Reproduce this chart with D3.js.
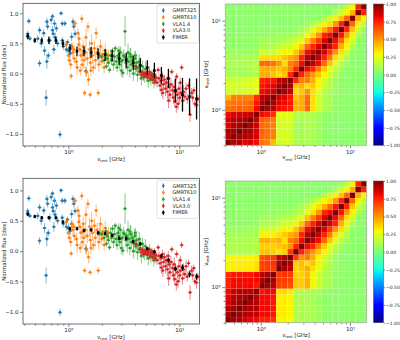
<!DOCTYPE html>
<html>
<head>
<meta charset="utf-8">
<script src="https://cdn.jsdelivr.net/npm/d3@7"></script>
<style>
body { margin: 0; background: #fff; }
svg { font-family: "DejaVu Sans", sans-serif; }
</style>
</head>
<body>
<script>
// [rest frequency GHz, normalized flux dex, error]
const gmrt325 = [
  [0.44, 0.87, 0.05], [0.43, 0.66, 0.05], [0.45, 0.58, 0.04], [0.43, 0.62, 0.05],
  [0.53, 0.58, 0.06], [0.55, 0.72, 0.06], [0.55, 0.17, 0.06], [0.57, 0.50, 0.07],
  [0.60, 0.67, 0.06], [0.61, 0.38, 0.08], [0.63, -0.40, 0.13], [0.64, 0.20, 0.12],
  [0.64, 0.86, 0.06], [0.65, 0.78, 0.06], [0.66, 0.30, 0.06], [0.68, 0.55, 0.07],
  [0.70, 0.89, 0.06], [0.72, 0.95, 0.05], [0.72, 0.72, 0.07], [0.73, 0.66, 0.06],
  [0.74, 0.40, 0.08], [0.75, 0.83, 0.06], [0.76, 0.60, 0.08], [0.78, 0.75, 0.06],
  [0.80, 0.50, 0.06], [0.84, -1.01, 0.06], [0.86, 1.00, 0.04], [0.88, 0.83, 0.05],
  [0.90, 0.45, 0.06], [0.93, 0.83, 0.05], [0.96, 0.40, 0.06], [1.00, 0.38, 0.07],
  [1.04, 0.33, 0.07], [1.07, 0.61, 0.07], [1.10, 0.86, 0.06], [1.12, 0.78, 0.06],
  [1.15, 0.66, 0.06], [1.07, 0.45, 0.06], [1.44, 0.04, 0.08], [0.98, 0.52, 0.05],
  [0.88, 0.55, 0.06]
];
const gmrt610 = [
  [0.96, 0.48, 0.06], [1.00, 0.30, 0.06], [1.02, 0.22, 0.07], [1.05, 0.15, 0.08],
  [1.06, -0.04, 0.05], [1.08, 0.44, 0.07], [1.10, 0.35, 0.10], [1.13, 0.25, 0.08],
  [1.15, 0.83, 0.06], [1.18, 0.20, 0.10], [1.20, 0.10, 0.12], [1.22, 0.67, 0.08],
  [1.25, 0.58, 0.10], [1.27, 0.40, 0.12], [1.28, 0.05, 0.08], [1.30, 0.30, 0.10],
  [1.32, 0.91, 0.07], [1.33, 0.15, 0.10], [1.36, 0.45, 0.12], [1.38, 0.22, 0.15],
  [1.40, -0.32, 0.05], [1.42, 0.35, 0.12], [1.44, 0.60, 0.15], [1.46, 0.02, 0.08],
  [1.48, 0.25, 0.12], [1.50, 0.78, 0.08], [1.52, -0.10, 0.10], [1.55, 0.40, 0.15],
  [1.57, -0.35, 0.05], [1.58, 0.18, 0.12], [1.62, 0.50, 0.15], [1.65, 0.30, 0.12],
  [1.68, 0.10, 0.10], [1.72, 0.42, 0.12], [1.75, 0.22, 0.15], [1.78, 0.67, 0.10],
  [1.82, 0.35, 0.12], [1.86, -0.32, 0.06], [1.88, 0.15, 0.12], [1.92, 0.28, 0.15],
  [1.95, 0.45, 0.12], [2.00, 0.20, 0.10], [2.05, 0.32, 0.12], [2.10, 0.10, 0.10],
  [2.15, 0.38, 0.12], [2.22, 0.25, 0.10], [2.30, 0.30, 0.10], [1.12, 0.40, 0.06],
  [1.24, 0.48, 0.08], [1.35, 0.32, 0.10], [1.60, 0.05, 0.10]
];
const vla14 = [
  [1.90, 0.30, 0.05], [2.00, 0.28, 0.06], [2.10, 0.22, 0.06], [2.18, 0.33, 0.07],
  [2.25, 0.25, 0.08], [2.30, 0.18, 0.06], [2.35, 0.06, 0.05], [2.40, 0.30, 0.10],
  [2.45, 0.22, 0.08], [2.50, 0.37, 0.06], [2.55, 0.15, 0.10], [2.60, 0.28, 0.12],
  [2.65, 0.42, 0.05], [2.70, 0.20, 0.10], [2.75, 0.10, 0.08], [2.80, 0.30, 0.12],
  [2.85, 0.25, 0.10], [2.90, 0.15, 0.08], [2.95, 0.35, 0.10], [3.00, 0.05, 0.10],
  [3.05, 0.22, 0.12], [3.10, 0.01, 0.08], [3.15, 0.30, 0.10], [3.24, 0.70, 0.25],
  [3.30, 0.18, 0.12], [3.35, 0.25, 0.10], [3.40, 0.10, 0.12], [3.45, 0.35, 0.15],
  [3.50, 0.20, 0.10], [3.58, 0.05, 0.12], [3.65, 0.28, 0.15], [3.70, 0.15, 0.12],
  [3.78, 0.22, 0.10], [3.85, 0.00, 0.12], [3.90, 0.12, 0.15], [3.98, 0.25, 0.12],
  [4.05, 0.08, 0.10], [4.12, 0.18, 0.15], [4.20, -0.02, 0.12], [4.28, 0.10, 0.10],
  [4.35, 0.20, 0.12], [4.45, 0.05, 0.15], [4.55, -0.08, 0.12], [4.65, 0.12, 0.10],
  [4.75, 0.00, 0.12], [4.85, -0.05, 0.10], [4.95, 0.08, 0.12], [5.10, -0.04, 0.10],
  [5.25, -0.12, 0.12], [5.40, 0.02, 0.10], [5.55, -0.10, 0.10], [5.70, -0.05, 0.08],
  [5.90, -0.15, 0.10], [6.10, -0.08, 0.08], [2.20, 0.12, 0.05], [2.85, 0.38, 0.08],
  [3.20, 0.28, 0.06], [3.60, 0.32, 0.10], [4.00, 0.30, 0.08], [3.00, 0.20, 0.06]
];
const vla30 = [
  [4.08, 0.12, 0.05], [4.40, 0.03, 0.05], [4.55, -0.02, 0.06], [4.65, 0.02, 0.05],
  [4.75, -0.05, 0.06], [4.85, 0.00, 0.05], [4.95, -0.03, 0.06], [5.05, 0.01, 0.06],
  [5.15, -0.06, 0.06], [5.25, -0.02, 0.06], [5.35, 0.03, 0.05], [5.45, -0.08, 0.07],
  [5.55, -0.03, 0.06], [5.65, 0.00, 0.06], [5.75, -0.10, 0.07], [5.85, -0.05, 0.06],
  [5.95, -0.02, 0.07], [6.05, -0.12, 0.08], [6.15, -0.06, 0.07], [6.30, -0.15, 0.08],
  [6.45, 0.06, 0.05], [6.55, -0.08, 0.08], [6.70, -0.20, 0.10], [6.85, -0.12, 0.08],
  [6.90, -0.27, 0.10], [7.05, -0.05, 0.08], [7.20, -0.18, 0.10], [7.35, -0.10, 0.08],
  [7.50, -0.25, 0.12], [7.65, -0.15, 0.10], [7.80, -0.30, 0.12], [7.95, -0.08, 0.08],
  [8.10, -0.22, 0.10], [8.25, -0.35, 0.12], [8.40, -0.18, 0.10], [8.55, 0.03, 0.05],
  [8.70, -0.28, 0.12], [8.85, -0.40, 0.10], [9.00, -0.22, 0.12], [9.10, -0.46, 0.10],
  [9.25, -0.30, 0.10], [9.46, -0.05, 0.06], [9.60, -0.35, 0.10], [9.75, -0.50, 0.10],
  [9.90, -0.25, 0.10], [10.05, -0.40, 0.10], [10.30, -0.32, 0.10], [10.50, 0.10, 0.05],
  [10.70, -0.45, 0.10], [10.90, -0.30, 0.10], [11.20, -0.38, 0.08], [11.50, -0.25, 0.10],
  [11.80, -0.42, 0.08], [12.10, -0.20, 0.06], [12.50, -0.68, 0.12], [12.90, -0.32, 0.08],
  [13.20, -0.40, 0.08], [13.50, -0.28, 0.06], [13.80, -0.50, 0.06], [14.30, -0.52, 0.10],
  [14.70, -0.42, 0.06], [7.10, -0.32, 0.10], [8.00, -0.45, 0.12], [9.40, -0.55, 0.10],
  [10.20, -0.15, 0.08]
];

// FIMER bins
const binEdges = [0.400, 0.463, 0.536, 0.620, 0.718, 0.830, 0.961, 1.112, 1.287, 1.489,
  1.723, 1.994, 2.307, 2.670, 3.089, 3.575, 4.137, 4.787, 5.540, 6.410, 7.418, 8.584,
  9.933, 11.49, 13.30, 15.39];
const fimerFreq = [0.431, 0.498, 0.576, 0.667, 0.772, 0.893, 1.033, 1.196, 1.384, 1.601,
  1.853, 2.144, 2.481, 2.871, 3.322, 3.844, 4.448, 5.147, 5.957, 6.892, 7.976, 9.230,
  10.68, 12.36, 14.30];
const fimerTop = [0.62, 0.55, 0.55, 0.55, 0.55, 0.50, 0.42, 0.37, 0.37, 0.35, 0.33, 0.31,
  0.30, 0.25, 0.22, 0.18, 0.14, 0.10, 0.05, -0.03, -0.08, -0.28, -0.35, -0.38, -0.42];
const fimerTopErr = [0.05, 0.04, 0.05, 0.06, 0.06, 0.06, 0.07, 0.08, 0.08, 0.09, 0.09, 0.10,
  0.10, 0.10, 0.12, 0.12, 0.12, 0.12, 0.13, 0.14, 0.16, 0.20, 0.28, 0.30, 0.34];
const fimerBot = [0.61, 0.57, 0.55, 0.55, 0.55, 0.48, 0.37, 0.37, 0.34, 0.35, 0.30, 0.29,
  0.26, 0.21, 0.21, 0.16, 0.12, 0.04, -0.01, -0.08, -0.15, -0.29, -0.27, -0.38, -0.42];
const fimerBotErr = [0.03, 0.03, 0.03, 0.03, 0.03, 0.03, 0.03, 0.03, 0.03, 0.03, 0.03, 0.03,
  0.03, 0.03, 0.03, 0.03, 0.03, 0.03, 0.03, 0.03, 0.04, 0.04, 0.05, 0.05, 0.05];

// correlation matrices, lower triangle (row i holds columns 0..i)
const corrTop = [
  [1.00],
  [0.90, 1.00],
  [0.92, 0.93, 1.00],
  [0.82, 0.92, 0.93, 1.00],
  [0.85, 0.90, 0.92, 0.93, 1.00],
  [0.80, 0.85, 0.85, 0.86, 0.88, 1.00],
  [0.58, 0.60, 0.62, 0.60, 0.62, 0.80, 1.00],
  [0.55, 0.58, 0.58, 0.58, 0.60, 0.78, 0.93, 1.00],
  [0.42, 0.55, 0.55, 0.55, 0.55, 0.72, 0.90, 0.93, 1.00],
  [0.20, 0.22, 0.22, 0.20, 0.22, 0.25, 0.80, 0.82, 0.85, 1.00],
  [0.22, 0.22, 0.22, 0.22, 0.22, 0.25, 0.78, 0.80, 0.82, 0.93, 1.00],
  [0.20, 0.20, 0.20, 0.22, 0.22, 0.25, 0.75, 0.78, 0.78, 0.88, 0.92, 1.00],
  [0.10, 0.10, 0.10, 0.10, 0.12, 0.12, 0.45, 0.45, 0.40, 0.35, 0.40, 0.75, 1.00],
  [0.10, 0.10, 0.10, 0.10, 0.12, 0.12, 0.45, 0.45, 0.45, 0.40, 0.45, 0.55, 0.75, 1.00],
  [0.12, 0.12, 0.12, 0.12, 0.12, 0.15, 0.60, 0.60, 0.58, 0.50, 0.35, 0.55, 0.60, 0.80, 1.00],
  [0.10, 0.10, 0.10, 0.12, 0.12, 0.12, 0.35, 0.35, 0.35, 0.35, 0.40, 0.45, 0.50, 0.75, 0.90, 1.00],
  [0.08, 0.08, 0.08, 0.08, 0.08, 0.10, 0.20, 0.20, 0.20, 0.25, 0.30, 0.30, 0.40, 0.55, 0.80, 0.88, 1.00],
  [0.05, 0.05, 0.05, 0.05, 0.05, 0.06, 0.12, 0.12, 0.12, 0.15, 0.20, 0.20, 0.30, 0.40, 0.60, 0.75, 0.85, 1.00],
  [0.05, 0.05, 0.05, 0.05, 0.05, 0.05, 0.10, 0.10, 0.10, 0.10, 0.12, 0.15, 0.20, 0.25, 0.40, 0.55, 0.70, 0.85, 1.00],
  [0.05, 0.05, 0.05, 0.05, 0.05, 0.05, 0.06, 0.06, 0.06, 0.08, 0.08, 0.08, 0.12, 0.15, 0.25, 0.35, 0.50, 0.75, 0.80, 1.00],
  [0.04, 0.04, 0.04, 0.04, 0.04, 0.04, 0.05, 0.05, 0.05, 0.05, 0.05, 0.05, 0.06, 0.10, 0.15, 0.25, 0.35, 0.45, 0.60, 0.78, 1.00],
  [0.04, 0.04, 0.04, 0.04, 0.04, 0.04, 0.04, 0.04, 0.04, 0.04, 0.04, 0.04, 0.04, 0.04, 0.08, 0.12, 0.20, 0.30, 0.35, 0.50, 0.75, 1.00],
  [0.04, 0.04, 0.04, 0.04, 0.04, 0.04, 0.04, 0.04, 0.04, 0.04, 0.04, 0.04, 0.04, 0.04, 0.04, 0.04, 0.04, 0.12, 0.20, 0.30, 0.40, 0.60, 1.00],
  [0.04, 0.04, 0.04, 0.04, 0.04, 0.04, 0.04, 0.04, 0.04, 0.04, 0.04, 0.04, 0.04, 0.04, 0.04, 0.04, 0.04, 0.04, 0.04, 0.12, 0.20, 0.30, 0.45, 1.00],
  [0.04, 0.04, 0.04, 0.04, 0.04, 0.04, 0.04, 0.04, 0.04, 0.04, 0.04, 0.04, 0.04, 0.04, 0.04, 0.04, 0.04, 0.04, 0.04, 0.04, 0.08, 0.15, 0.30, 0.75, 1.00]
];
const corrBot = [
  [1.00],
  [0.93, 1.00],
  [0.92, 0.94, 1.00],
  [0.85, 0.92, 0.93, 1.00],
  [0.82, 0.90, 0.92, 0.93, 1.00],
  [0.80, 0.88, 0.90, 0.90, 0.90, 1.00],
  [0.75, 0.80, 0.80, 0.80, 0.80, 0.78, 1.00],
  [0.75, 0.80, 0.80, 0.80, 0.80, 0.80, 0.93, 1.00],
  [0.72, 0.78, 0.78, 0.78, 0.78, 0.80, 0.90, 0.93, 1.00],
  [0.30, 0.32, 0.32, 0.32, 0.32, 0.35, 0.68, 0.70, 0.70, 1.00],
  [0.30, 0.32, 0.32, 0.32, 0.32, 0.35, 0.68, 0.70, 0.72, 0.93, 1.00],
  [0.28, 0.30, 0.30, 0.30, 0.30, 0.32, 0.65, 0.68, 0.70, 0.88, 0.92, 1.00],
  [0.12, 0.12, 0.12, 0.12, 0.12, 0.12, 0.40, 0.40, 0.38, 0.35, 0.38, 0.70, 1.00],
  [0.12, 0.12, 0.12, 0.12, 0.12, 0.12, 0.38, 0.38, 0.38, 0.40, 0.42, 0.50, 0.75, 1.00],
  [0.12, 0.12, 0.12, 0.12, 0.12, 0.12, 0.45, 0.45, 0.42, 0.45, 0.35, 0.55, 0.60, 0.80, 1.00],
  [0.10, 0.10, 0.10, 0.10, 0.10, 0.10, 0.30, 0.30, 0.30, 0.35, 0.40, 0.45, 0.50, 0.75, 0.90, 1.00],
  [0.08, 0.08, 0.08, 0.08, 0.08, 0.10, 0.20, 0.20, 0.20, 0.25, 0.30, 0.30, 0.40, 0.55, 0.80, 0.88, 1.00],
  [0.05, 0.05, 0.05, 0.05, 0.05, 0.06, 0.12, 0.12, 0.12, 0.15, 0.20, 0.20, 0.30, 0.40, 0.60, 0.75, 0.85, 1.00],
  [0.05, 0.05, 0.05, 0.05, 0.05, 0.05, 0.10, 0.10, 0.10, 0.10, 0.12, 0.15, 0.20, 0.25, 0.40, 0.55, 0.70, 0.85, 1.00],
  [0.05, 0.05, 0.05, 0.05, 0.05, 0.05, 0.06, 0.06, 0.06, 0.08, 0.08, 0.08, 0.12, 0.15, 0.25, 0.35, 0.50, 0.75, 0.80, 1.00],
  [0.04, 0.04, 0.04, 0.04, 0.04, 0.04, 0.05, 0.05, 0.05, 0.05, 0.05, 0.05, 0.06, 0.10, 0.15, 0.25, 0.35, 0.45, 0.60, 0.78, 1.00],
  [0.04, 0.04, 0.04, 0.04, 0.04, 0.04, 0.04, 0.04, 0.04, 0.04, 0.04, 0.04, 0.04, 0.04, 0.08, 0.12, 0.20, 0.30, 0.35, 0.50, 0.75, 1.00],
  [0.04, 0.04, 0.04, 0.04, 0.04, 0.04, 0.04, 0.04, 0.04, 0.04, 0.04, 0.04, 0.04, 0.04, 0.04, 0.04, 0.04, 0.12, 0.20, 0.30, 0.40, 0.60, 1.00],
  [0.04, 0.04, 0.04, 0.04, 0.04, 0.04, 0.04, 0.04, 0.04, 0.04, 0.04, 0.04, 0.04, 0.04, 0.04, 0.04, 0.04, 0.04, 0.04, 0.12, 0.20, 0.30, 0.45, 1.00],
  [0.04, 0.04, 0.04, 0.04, 0.04, 0.04, 0.04, 0.04, 0.04, 0.04, 0.04, 0.04, 0.04, 0.04, 0.04, 0.04, 0.04, 0.04, 0.04, 0.04, 0.08, 0.15, 0.30, 0.75, 1.00]
];

const seriesNames = ["GMRT325", "GMRT610", "VLA1.4", "VLA3.0", "FIMER"];
const seriesColors = ["#1f77b4", "#ff7f0e", "#2ca02c", "#d62728", "#000000"];
const cbarTicks = [-1, -0.75, -0.5, -0.25, 0, 0.25, 0.5, 0.75, 1];

const svg = d3.select("body").append("svg")
    .attr("width", 400)
    .attr("height", 340);

// matplotlib jet
const jetR = d3.scaleLinear().domain([0, 0.35, 0.66, 0.89, 1]).range([0, 0, 1, 1, 0.5]).clamp(true);
const jetG = d3.scaleLinear().domain([0, 0.125, 0.375, 0.64, 0.91, 1]).range([0, 0, 1, 1, 0, 0]).clamp(true);
const jetB = d3.scaleLinear().domain([0, 0.11, 0.34, 0.65, 1]).range([0.5, 1, 1, 0, 0]).clamp(true);
function jet(v) {
    const t = (v + 1) / 2;
    return d3.rgb(jetR(t) * 255, jetG(t) * 255, jetB(t) * 255).toString();
}

const minorTicks = [0.4, 0.5, 0.6, 0.7, 0.8, 0.9, 2, 3, 4, 5, 6, 7, 8, 9];
const powFmt = d => d === 1 ? "10\u2070" : "10\u00b9";

function nuLabel(g, x, y, rotate) {
    const t = g.append("text")
        .attr("text-anchor", "middle")
        .attr("font-size", 5.5)
        .attr("fill", "#222")
        .attr("transform", `translate(${x},${y})` + (rotate ? " rotate(-90)" : ""));
    t.append("tspan").text("\u03bd");
    t.append("tspan").attr("font-size", 3.8).attr("dy", 1.3).text("rest");
    t.append("tspan").attr("dy", -1.3).text(" [GHz]");
}

function styleAxis(g) {
    g.select(".domain").remove();
    g.selectAll("line").attr("stroke", "#333").attr("stroke-width", 0.6);
    g.selectAll("text").attr("font-size", 5.5).attr("fill", "#222").attr("font-family", "DejaVu Sans");
}

function logXAxis(g, x, y1) {
    const gx = g.append("g").attr("transform", `translate(0,${y1})`)
        .call(d3.axisBottom(x).tickValues([1, 10]).tickFormat(powFmt).tickSize(3).tickPadding(1.5));
    styleAxis(gx);
    const gxm = g.append("g").attr("transform", `translate(0,${y1})`)
        .call(d3.axisBottom(x).tickValues(minorTicks).tickFormat("").tickSize(1.7));
    styleAxis(gxm);
}

function spectrumPanel(top, bottom, yDomain, fimerVal, fimerErr, legendTop) {
    const x = d3.scaleLog().domain([0.39, 15.2]).range([23, 199.5]);
    const y = d3.scaleLinear().domain(yDomain).range([bottom, top]);
    const g = svg.append("g");

    logXAxis(g, x, bottom);
    const gy = g.append("g").attr("transform", "translate(23,0)")
        .call(d3.axisLeft(y).tickValues([-1, -0.5, 0, 0.5, 1]).tickFormat(d3.format(".1f")).tickSize(3).tickPadding(1.5));
    styleAxis(gy);

    const sets = [gmrt325, gmrt610, vla14, vla30];
    sets.forEach((data, k) => {
        const s = g.append("g");
        const c = seriesColors[k];
        s.selectAll("line.ey").data(data).join("line")
            .attr("x1", d => x(d[0])).attr("x2", d => x(d[0]))
            .attr("y1", d => y(d[1] - d[2])).attr("y2", d => y(d[1] + d[2]))
            .attr("stroke", c).attr("stroke-width", 1).attr("stroke-opacity", 0.55);
        s.selectAll("line.ex").data(data).join("line")
            .attr("x1", d => x(d[0] / 1.045)).attr("x2", d => x(d[0] * 1.045))
            .attr("y1", d => y(d[1])).attr("y2", d => y(d[1]))
            .attr("stroke", c).attr("stroke-width", 1).attr("stroke-opacity", 0.55);
        s.selectAll("circle").data(data).join("circle")
            .attr("cx", d => x(d[0])).attr("cy", d => y(d[1])).attr("r", 1.4)
            .attr("fill", c);
    });

    const fim = fimerFreq.map((f, i) => [f, fimerVal[i], fimerErr[i]]);
    const s = g.append("g");
    s.selectAll("line").data(fim).join("line")
        .attr("x1", d => x(d[0])).attr("x2", d => x(d[0]))
        .attr("y1", d => y(d[1] - d[2])).attr("y2", d => y(d[1] + d[2]))
        .attr("stroke", "#000").attr("stroke-width", 1.3);
    s.selectAll("rect").data(fim).join("rect")
        .attr("x", d => x(d[0]) - 1.3).attr("y", d => y(d[1]) - 1.3)
        .attr("width", 2.6).attr("height", 2.6).attr("fill", "#000");

    g.append("rect").attr("x", 23).attr("y", top).attr("width", 176.5).attr("height", bottom - top)
        .attr("fill", "none").attr("stroke", "#333").attr("stroke-width", 0.7);

    // legend
    const lg = g.append("g");
    lg.append("rect").attr("x", 157).attr("y", legendTop).attr("width", 41.5).attr("height", 38)
        .attr("rx", 1.5).attr("fill", "#fff").attr("fill-opacity", 0.8)
        .attr("stroke", "#ccc").attr("stroke-width", 0.6);
    seriesNames.forEach((name, k) => {
        const yy = legendTop + 5.5 + k * 6.7;
        lg.append("line").attr("x1", 163.3).attr("x2", 163.3).attr("y1", yy - 2.4).attr("y2", yy + 2.4)
            .attr("stroke", seriesColors[k]).attr("stroke-width", 0.9);
        lg.append("circle").attr("cx", 163.3).attr("cy", yy).attr("r", 1.3).attr("fill", seriesColors[k]);
        lg.append("text").attr("x", 172.5).attr("y", yy + 1.8).attr("font-size", 5)
            .attr("fill", "#222").text(name);
    });

    nuLabel(g, 111, bottom + 14.5, false);
    g.append("text")
        .attr("transform", `translate(6,${(top + bottom) / 2}) rotate(-90)`)
        .attr("text-anchor", "middle").attr("font-size", 5.5).attr("fill", "#222")
        .text("Normalized flux [dex]");
}

function corrPanel(top, bottom, lower) {
    const x = d3.scaleLog().domain([binEdges[0], binEdges[binEdges.length - 1]]).range([225.3, 366.7]);
    const y = d3.scaleLog().domain([binEdges[0], binEdges[binEdges.length - 1]]).range([bottom, top]);
    const g = svg.append("g");

    const cells = [];
    lower.forEach((row, i) => row.forEach((v, j) => {
        cells.push({ i, j, v });
        if (i !== j) cells.push({ i: j, j: i, v });
    }));
    g.selectAll("rect.cell").data(cells).join("rect")
        .attr("x", d => x(binEdges[d.j]))
        .attr("y", d => y(binEdges[d.i + 1]))
        .attr("width", d => x(binEdges[d.j + 1]) - x(binEdges[d.j]))
        .attr("height", d => y(binEdges[d.i]) - y(binEdges[d.i + 1]))
        .attr("fill", d => jet(d.v))
        .attr("stroke", "#fff").attr("stroke-opacity", 0.12).attr("stroke-width", 0.4);

    logXAxis(g, x, bottom);
    const gy = g.append("g").attr("transform", "translate(225.3,0)")
        .call(d3.axisLeft(y).tickValues([1, 10]).tickFormat(powFmt).tickSize(3).tickPadding(1.5));
    styleAxis(gy);
    const gym = g.append("g").attr("transform", "translate(225.3,0)")
        .call(d3.axisLeft(y).tickValues(minorTicks).tickFormat("").tickSize(1.7));
    styleAxis(gym);

    g.append("rect").attr("x", 225.3).attr("y", top).attr("width", 141.4).attr("height", bottom - top)
        .attr("fill", "none").attr("stroke", "#aaa").attr("stroke-width", 0.8);

    nuLabel(g, 296, bottom + 14, false);
    nuLabel(g, 208, (top + bottom) / 2, true);

    // colourbar
    const cb = d3.scaleLinear().domain([-1, 1]).range([bottom, top]);
    const gid = "jet" + Math.round(top);
    const grad = svg.append("defs").append("linearGradient").attr("id", gid)
        .attr("x1", 0).attr("y1", 1).attr("x2", 0).attr("y2", 0);
    d3.range(0, 1.0001, 0.02).forEach(t => {
        grad.append("stop").attr("offset", t).attr("stop-color", jet(t * 2 - 1));
    });
    g.append("rect").attr("x", 373.5).attr("y", top).attr("width", 10).attr("height", bottom - top)
        .attr("fill", `url(#${gid})`).attr("stroke", "#444").attr("stroke-width", 0.5);
    const gc = g.append("g").attr("transform", "translate(383.5,0)")
        .call(d3.axisRight(cb).tickValues(cbarTicks).tickFormat(d3.format(".2f")).tickSize(1.6).tickPadding(0.9));
    styleAxis(gc);
    gc.selectAll("text").attr("font-size", 4.5);
}

spectrumPanel(3.3, 146, [-1.2, 1.166], fimerTop, fimerTopErr, 5);
spectrumPanel(178.3, 324, [-1.2, 1.2], fimerBot, fimerBotErr, 180.3);
corrPanel(4, 145.3, corrTop);
corrPanel(181, 322.7, corrBot);
</script>
</body>
</html>
